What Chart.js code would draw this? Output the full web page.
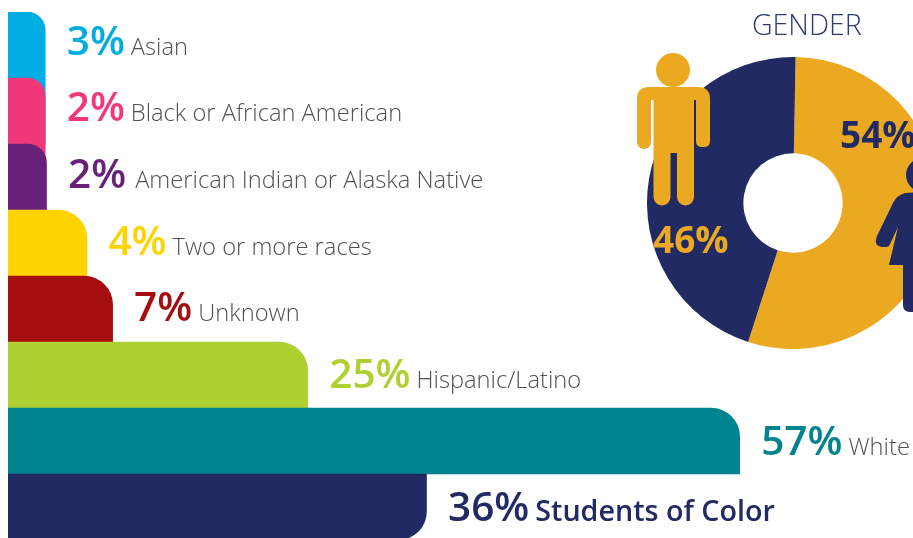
<!DOCTYPE html>
<html>
<head>
<meta charset="utf-8">
<title>Enrollment</title>
<script src="https://cdn.jsdelivr.net/npm/chart.js@4"></script>
<style>
  html, body { margin: 0; padding: 0; background: #fff; }
  #page { position: relative; width: 913px; height: 538px; overflow: hidden; font-family: "Open Sans", sans-serif; }
  canvas { position: absolute; }
  #barChart { left: 8px; top: 12px; }
  #genderChart { left: 646.5px; top: 56.5px; }
  #icons { position: absolute; left: 0; top: 0; }
  .row { position: absolute; white-space: nowrap; line-height: 50px; height: 50px; }
  .pct { font-size: 40.5px; font-weight: 600; }
  .name { font-size: 23.7px; font-weight: 300; color: #4f5052; }
  .total { font-size: 28.7px; font-weight: 600; color: #212a63; }
  #title { position: absolute; left: 752px; top: 5px; font-size: 28.5px; font-weight: 300; color: #2f3a75; }
  .gender { position: absolute; font-size: 37px; font-weight: 700; line-height: 40px; }
</style>
</head>
<body>
<div id="page">
  <canvas id="barChart" width="905" height="528"></canvas>
  <canvas id="genderChart" width="292" height="292"></canvas>
  <svg id="icons" width="913" height="538">
    <circle cx="673" cy="70" r="17" fill="#eba922"/>
    <path fill="#eba922" d="M649 87H698Q710 87 710 99V141Q710 147 704 147H702Q696 147 696 141V100H694V197a8.5 8.5 0 0 1-17 0V153H670.5V197a8.5 8.5 0 0 1-17 0V100H651V142a7 7 0 0 1-14 0V99Q637 87 649 87Z"/>
    <circle cx="923" cy="175" r="17" fill="#212a63"/>
    <path fill="#212a63" d="M920 192L905 193Q897 195 893 203L877 236Q873 246 882 247H886Q889 247 890 244L898 227L889 265H903V305Q903 312 910 312H920Z"/>
  </svg>
  <div id="title">GENDER</div>
</div>
<script>
const categories = ["Asian", "Black or African American", "American Indian or Alaska Native", "Two or more races", "Unknown", "Hispanic/Latino", "White", "Students of Color"];
const percents = [3, 2, 2, 4, 7, 25, 57, 36];
// the bars in the picture are not drawn to scale, so lengths are read off separately
const barLengths = [2.9, 2.9, 3.0, 6.15, 8.15, 23.35, 57, 32.6];
const colors = ["#00ade2", "#f0387a", "#69217a", "#ffd300", "#a60d0f", "#afd033", "#00848f", "#212a63"];

const genderLabels = ["Female", "Male"];
const genderPercents = [54, 46];
// same for the ring, the gold slice is drawn a bit wider than its 54%
const genderArcs = [54.7, 45.3];
const genderColors = ["#eba922", "#212a63"];

// each bar runs on behind the next one, that's what shows in the rounded corner
const behindLengths = barLengths.map((v, i) => (i === 0 || i === barLengths.length - 1) ? 0 : Math.min(barLengths[i - 1], v));
const behindColors = colors.map((c, i) => i === 0 ? c : colors[i - 1]);

const barChart = new Chart(document.getElementById("barChart"), {
  type: "bar",
  data: {
    labels: categories,
    datasets: [
      {
        data: barLengths,
        backgroundColor: colors,
        borderWidth: 0,
        order: 1,
        borderRadius: (ctx) => {
          const last = ctx.dataIndex === categories.length - 1;
          return { topLeft: 0, bottomLeft: 0, topRight: last ? 0 : 29, bottomRight: last ? 29 : 0 };
        },
      },
      {
        data: behindLengths,
        backgroundColor: behindColors,
        borderWidth: 0,
        order: 2,
      },
    ],
  },
  options: {
    indexAxis: "y",
    responsive: false,
    animation: false,
    events: [],
    layout: { padding: 0 },
    plugins: { legend: { display: false }, tooltip: { enabled: false } },
    datasets: { bar: { grouped: false, barPercentage: 1, categoryPercentage: 1 } },
    scales: {
      x: { display: false, min: 0, max: 70.5 },
      y: { display: false },
    },
  },
});

new Chart(document.getElementById("genderChart"), {
  type: "doughnut",
  data: {
    labels: genderLabels,
    datasets: [{
      data: genderArcs,
      backgroundColor: genderColors,
      borderWidth: 0,
      hoverOffset: 0,
    }],
  },
  options: {
    responsive: false,
    animation: false,
    events: [],
    rotation: 1,
    cutout: "34%",
    layout: { padding: 0 },
    plugins: { legend: { display: false }, tooltip: { enabled: false } },
  },
});

// bar labels sit a fixed gap right of each bar end, the text rows drift down a little
const page = document.getElementById("page");
const barEls = barChart.getDatasetMeta(0).data;
categories.forEach((name, i) => {
  const row = document.createElement("div");
  row.className = "row";
  row.style.left = (8 + barEls[i].x + 21.5) + "px";
  row.style.top = (12 + barEls[i].y - 30.5 + i * 0.7) + "px";

  const pct = document.createElement("span");
  pct.className = "pct";
  pct.style.color = colors[i];
  pct.textContent = percents[i] + "%";
  row.appendChild(pct);

  const label = document.createElement("span");
  label.className = i === categories.length - 1 ? "total" : "name";
  label.style.marginLeft = i === 2 ? "9px" : "6px";
  label.textContent = name;
  row.appendChild(label);
  page.appendChild(row);
});

[
  { text: genderPercents[0] + "%", left: 840, top: 114, color: genderColors[1] },
  { text: genderPercents[1] + "%", left: 653, top: 219, color: genderColors[0] },
].forEach((g) => {
  const d = document.createElement("div");
  d.className = "gender";
  d.style.left = g.left + "px";
  d.style.top = g.top + "px";
  d.style.color = g.color;
  d.textContent = g.text;
  page.appendChild(d);
});
</script>
</body>
</html>
